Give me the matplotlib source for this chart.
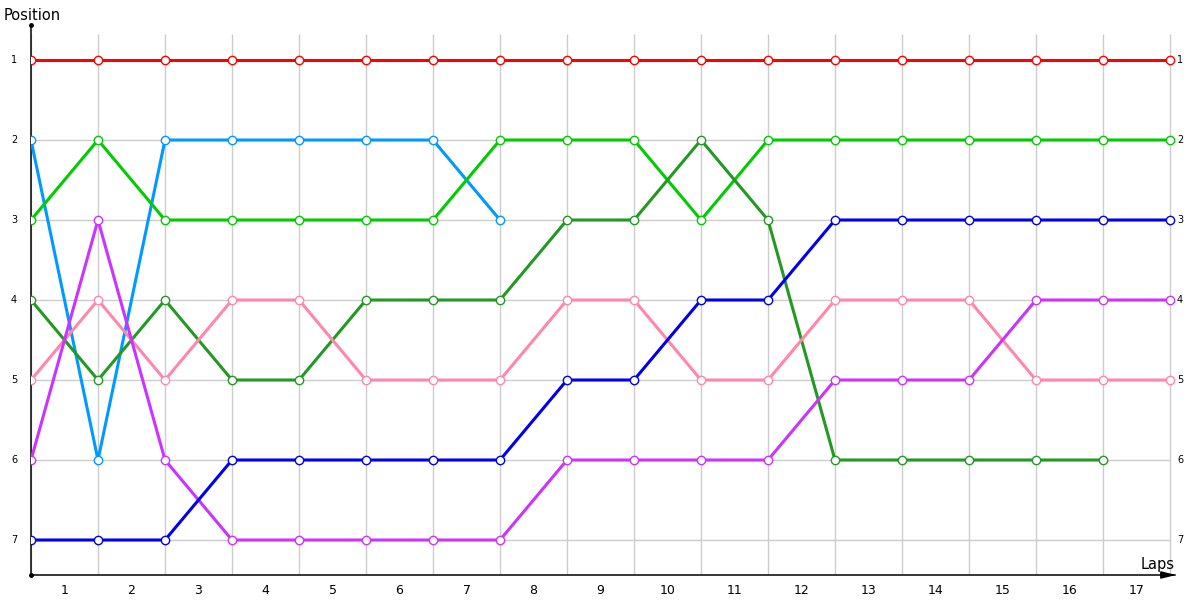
import matplotlib
matplotlib.use("Agg")
import matplotlib.pyplot as plt
import numpy as np

laps = list(range(1, 18))
positions = [1, 2, 3, 4, 5, 6, 7]

red = [1] * 18
light_blue = [2, 6, 2, 2, 2, 2, 2, 3]
light_green = [3, 2, 3, 3, 3, 3, 3, 2, 2, 2, 3, 2, 2, 2, 2, 2, 2, 2]
dark_green = [4, 5, 4, 5, 5, 4, 4, 4, 3, 3, 2, 3, 6, 6, 6, 6, 6]
pink = [5, 4, 5, 4, 4, 5, 5, 5, 4, 4, 5, 5, 4, 4, 4, 5, 5, 5]
purple = [6, 3, 6, 7, 7, 7, 7, 7, 6, 6, 6, 6, 5, 5, 5, 4, 4, 4]
blue = [7, 7, 7, 6, 6, 6, 6, 6, 5, 5, 4, 4, 3, 3, 3, 3, 3, 3]

series = [
    (red, "#FF0000"),
    (light_blue, "#0099FF"),
    (light_green, "#00CC00"),
    (dark_green, "#229922"),
    (pink, "#FF88AA"),
    (purple, "#CC33FF"),
    (blue, "#0000EE"),
]

fig = plt.figure(figsize=(12, 6), dpi=100)
x0, x1 = 31, 1175
y0, y1 = 25, 575
ax = fig.add_axes([x0 / 1200, 1 - y1 / 600, (x1 - x0) / 1200, (y1 - y0) / 600])
xmax = 17 + (x1 - 1170) / 67
ymin_top = 1 - 35 / 80
ymax_bot = 7 + 35 / 80
ax.set_xlim(0, xmax)
ax.set_ylim(ymax_bot, ymin_top)

grid_c = "#CCCCCC"
ax.vlines(np.arange(0, 18), ymax_bot, 1 - 26 / 80, color=grid_c, lw=1, zorder=1)
ax.hlines(positions, 0, 17, color=grid_c, lw=1, zorder=1)

for vals, col in series:
    xs = np.arange(len(vals))
    ax.plot(xs, vals, color=col, lw=2.2, zorder=3, solid_capstyle="butt")
    ax.plot(xs, vals, ls="none", marker="o", ms=6, mfc="white", mec=col, mew=1.0, zorder=4)

for s in ["top", "right"]:
    ax.spines[s].set_visible(False)
ax.spines["left"].set_color("black")
ax.spines["bottom"].set_color("black")
ax.spines["left"].set_linewidth(1.1)
ax.spines["bottom"].set_linewidth(1.1)
ax.set_xticks([])
ax.set_yticks([])

# arrow at end of x-axis and dots
ax.annotate("", xy=(xmax + 4 / 67, ymax_bot), xytext=(xmax - 10 / 67, ymax_bot),
            arrowprops=dict(arrowstyle="-|>,head_length=0.9,head_width=0.22", color="black", lw=1),
            annotation_clip=False)
ax.plot([0], [ymin_top], marker="o", ms=2.5, color="black", clip_on=False, zorder=5)
ax.plot([0], [ymax_bot], marker="o", ms=2.5, color="black", clip_on=False, zorder=5)

for i, lap in enumerate(laps):
    ax.text(i + 0.5, ymax_bot + 15 / 80, str(lap), ha="center", va="center",
            fontsize=9, color="black", clip_on=False)

for p in positions:
    ax.text(-17 / 67, p, str(p), ha="center", va="center", fontsize=7, color="black", clip_on=False)
    ax.text(17 + 10 / 67, p, str(p), ha="center", va="center", fontsize=7, color="black", clip_on=False)

fig.text(4 / 1200, 1 - 15 / 600, "Position", ha="left", va="center", fontsize=10.5, color="black")
fig.text(1175 / 1200, 1 - 565 / 600, "Laps", ha="right", va="center", fontsize=10.5, color="black")

fig.savefig("out.png", dpi=100)
